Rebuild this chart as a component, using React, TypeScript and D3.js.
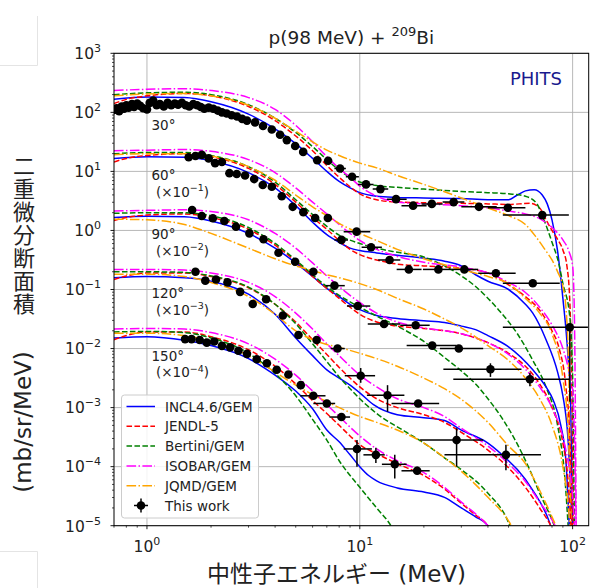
import React from "react";
import * as d3 from "d3";

type Pt = number[];

// ---------- axes ----------
const X_DOMAIN = [0.7, 119];
const Y_DOMAIN = [1e-5, 1e3];
const X_MAJOR = [1, 10, 100];
const X_MAJOR_EXP = ["0", "1", "2"];
const Y_MAJOR_EXP = [-5, -4, -3, -2, -1, 0, 1, 2, 3];

// ---------- labels ----------
const ANGLE_LABELS = ["30°", "60°", "90°", "120°", "150°"];
const SCALE_EXP = ["", "−1", "−2", "−3", "−4"];
const MODEL_NAMES = ["INCL4.6/GEM", "JENDL-5", "Bertini/GEM", "ISOBAR/GEM", "JQMD/GEM"];
const DATA_NAME = "This work";
const Y_LABEL_CJK = ["二", "重", "微", "分", "断", "面", "積"];

// ---------- model curves: [energy MeV, log10(d2σ/dEdΩ, scaled)] ----------
const INCL_30: Pt[] = [[0.7,2.22],[1,2.26],[1.5,2.25],[2,2.18],[3,1.97],[4,1.72],[5,1.47],[6,1.22],[7,1.0],[8,0.83],[9,0.72],[10,0.64],[12,0.58],[15,0.56],[20,0.55],[30,0.54],[40,0.52],[50,0.52],[55,0.6],[60,0.67],[66,0.69],[72,0.6],[76,0.45],[80,0.18],[85,-0.35],[90,-1.15],[95,-2.1],[98,-3.0],[100,-5.2]];
const JENDL_30: Pt[] = [[0.7,2.15],[0.8,2.22],[1,2.28],[1.5,2.32],[2,2.28],[3,2.1],[4,1.86],[5,1.6],[6,1.35],[7,1.1],[8,0.9],[9,0.74],[10,0.62],[12,0.52],[15,0.48],[20,0.47],[30,0.46],[40,0.45],[50,0.44],[63,0.46],[70,0.38],[75,0.18],[80,0.0],[85,-0.15],[90,-0.33],[94,-0.6],[97,-1.2],[99,-2.5],[101,-5.2]];
const BERTINI_30: Pt[] = [[0.7,2.3],[1,2.33],[1.5,2.34],[2,2.3],[3,2.13],[4,1.9],[5,1.66],[6,1.42],[7,1.2],[8,1.02],[9,0.9],[10,0.82],[12,0.76],[15,0.73],[20,0.7],[30,0.66],[40,0.64],[50,0.62],[60,0.58],[68,0.45],[72,0.25],[80,-0.2],[86,-0.55],[90,-0.9],[97,-1.46],[100,-2.5],[102,-5.2]];
const ISOBAR_30: Pt[] = [[0.7,2.37],[1,2.39],[1.5,2.4],[2,2.37],[3,2.25],[4,2.05],[5,1.78],[6,1.5],[7,1.25],[8,1.05],[9,0.9],[10,0.75],[12,0.58],[15,0.48],[20,0.45],[30,0.42],[40,0.38],[50,0.33],[60,0.28],[70,0.2],[80,0.05],[90,-0.16],[96,-0.35],[100,-0.6],[102,-1.5],[104,-5.2]];
const JQMD_30: Pt[] = [[0.7,2.28],[1,2.31],[1.5,2.32],[2,2.28],[3,2.12],[4,1.9],[5,1.68],[6,1.5],[7,1.36],[8,1.27],[10,1.14],[12,1.06],[15,0.93],[20,0.78],[30,0.55],[40,0.38],[50,0.25],[60,0.1],[67,-0.1],[75,-0.35],[80,-0.5],[85,-0.7],[90,-0.95],[93,-1.3],[96,-2.5],[98,-5.2]];

const INCL_60: Pt[] = [[0.7,1.22],[1,1.25],[1.5,1.24],[2,1.18],[3,0.98],[4,0.72],[5,0.42],[6,0.14],[7,-0.07],[8,-0.2],[9,-0.3],[10,-0.34],[12,-0.38],[15,-0.42],[20,-0.47],[25,-0.52],[30,-0.6],[35,-0.75],[40,-0.86],[50,-1.0],[60,-1.25],[65,-1.4],[75,-1.85],[85,-2.4],[90,-2.8],[95,-3.5],[100,-5.2]];
const JENDL_60: Pt[] = [[0.7,1.16],[0.8,1.22],[1,1.27],[1.5,1.3],[2,1.25],[3,1.05],[4,0.78],[5,0.48],[6,0.22],[7,0.02],[8,-0.17],[9,-0.32],[10,-0.41],[12,-0.5],[15,-0.57],[20,-0.6],[30,-0.64],[40,-0.72],[50,-0.92],[60,-1.12],[70,-1.35],[80,-1.7],[86,-1.97],[93,-2.65],[97,-3.5],[100,-5.2]];
const BERTINI_60: Pt[] = [[0.7,1.3],[1,1.32],[1.5,1.32],[2,1.27],[3,1.08],[4,0.82],[5,0.52],[6,0.27],[7,0.07],[8,-0.08],[10,-0.22],[12,-0.3],[15,-0.37],[20,-0.45],[26.5,-0.65],[35,-0.95],[45,-1.35],[55,-1.75],[65,-2.2],[75,-2.65],[85,-3.3],[92,-4.2],[96,-5.2]];
const ISOBAR_60: Pt[] = [[0.7,1.35],[1,1.36],[1.5,1.37],[2,1.34],[3,1.2],[4,0.98],[5,0.72],[6,0.48],[7,0.28],[8,0.1],[9,-0.05],[10,-0.17],[12,-0.32],[15,-0.44],[20,-0.54],[30,-0.62],[40,-0.72],[50,-0.88],[60,-1.05],[70,-1.3],[80,-1.6],[90,-2.0],[95,-2.3],[100,-2.7],[102,-3.5],[104,-5.2]];
const JQMD_60: Pt[] = [[0.7,1.28],[1,1.3],[1.5,1.3],[2,1.26],[3,1.08],[4,0.85],[5,0.6],[6,0.4],[7,0.25],[8,0.12],[10,-0.05],[12,-0.17],[15,-0.32],[20,-0.48],[30,-0.66],[40,-0.78],[50,-0.9],[60,-1.15],[70,-1.4],[80,-1.75],[90,-2.5],[95,-3.3],[99,-5.2]];

const INCL_90: Pt[] = [[0.7,0.22],[1,0.24],[1.5,0.23],[2,0.16],[3,-0.05],[4,-0.3],[5,-0.55],[6,-0.78],[7,-0.98],[8,-1.12],[9,-1.25],[10,-1.34],[12,-1.44],[15,-1.49],[20,-1.53],[25,-1.56],[30,-1.62],[35,-1.68],[40,-1.78],[50,-1.97],[65,-2.36],[75,-2.65],[81,-2.87],[88,-3.3],[93,-3.9],[97,-5.2]];
const JENDL_90: Pt[] = [[0.7,0.17],[0.8,0.22],[1,0.26],[1.5,0.28],[2,0.22],[3,0.02],[4,-0.25],[5,-0.52],[6,-0.78],[7,-0.98],[8,-1.15],[9,-1.3],[10,-1.42],[12,-1.55],[15,-1.62],[20,-1.66],[30,-1.75],[40,-1.9],[50,-2.08],[60,-2.3],[70,-2.6],[80,-3.0],[90,-3.6],[95,-4.2],[99,-5.2]];
const BERTINI_90: Pt[] = [[0.7,0.29],[1,0.3],[1.5,0.3],[2,0.25],[3,0.05],[4,-0.22],[5,-0.5],[6,-0.75],[7,-0.95],[8,-1.1],[10,-1.3],[12,-1.45],[15,-1.62],[20,-1.88],[25,-2.15],[30,-2.38],[35,-2.6],[40,-2.85],[47,-3.2],[55,-3.62],[63,-4.06],[70,-4.45],[80,-4.9],[86,-5.2]];
const ISOBAR_90: Pt[] = [[0.7,0.33],[1,0.34],[1.5,0.35],[2,0.32],[3,0.18],[4,-0.05],[5,-0.3],[6,-0.55],[7,-0.77],[8,-0.95],[9,-1.1],[10,-1.22],[12,-1.4],[15,-1.55],[20,-1.65],[30,-1.75],[40,-1.9],[50,-2.1],[60,-2.35],[70,-2.65],[80,-3.0],[90,-3.5],[95,-3.9],[100,-4.5],[103,-5.2]];
const JQMD_90: Pt[] = [[0.7,0.19],[1,0.18],[1.5,0.1],[2,-0.05],[3,-0.3],[4,-0.48],[5,-0.6],[6,-0.68],[7,-0.75],[8,-0.8],[10,-0.9],[12,-1.0],[15,-1.15],[20,-1.33],[25,-1.5],[30,-1.65],[40,-1.95],[50,-2.2],[60,-2.5],[70,-2.85],[80,-3.3],[90,-4.0],[95,-4.6],[98,-5.2]];

const INCL_120: Pt[] = [[0.7,-0.8],[1,-0.78],[1.5,-0.8],[2,-0.86],[3,-1.08],[4,-1.42],[5,-1.82],[6,-2.12],[7,-2.36],[8,-2.5],[9,-2.62],[10,-2.75],[11.6,-2.95],[15,-3.12],[20,-3.17],[25,-3.22],[30,-3.38],[40,-3.6],[50,-3.9],[55,-4.05],[65,-4.4],[78,-4.95],[82,-5.2]];
const JENDL_120: Pt[] = [[0.7,-0.83],[0.8,-0.77],[1,-0.72],[1.5,-0.72],[2,-0.78],[3,-0.97],[4,-1.25],[5,-1.55],[6,-1.85],[7,-2.1],[8,-2.32],[9,-2.5],[10,-2.65],[12,-2.85],[15,-3.0],[20,-3.12],[25,-3.25],[30,-3.42],[40,-3.72],[50,-4.02],[60,-4.35],[70,-4.7],[80,-5.05],[83,-5.2]];
const BERTINI_120: Pt[] = [[0.7,-0.7],[1,-0.7],[1.5,-0.71],[2,-0.77],[3,-0.96],[4,-1.25],[5,-1.58],[6,-1.92],[7,-2.22],[8,-2.48],[9,-2.68],[10,-2.85],[12,-3.1],[16.6,-3.42],[20,-3.6],[25,-3.85],[30,-4.05],[40,-4.45],[50,-4.95],[53,-5.2]];
const ISOBAR_120: Pt[] = [[0.7,-0.66],[1,-0.66],[1.5,-0.67],[2,-0.72],[3,-0.88],[4,-1.12],[5,-1.4],[6,-1.67],[7,-1.92],[8,-2.12],[9,-2.3],[10,-2.45],[12,-2.65],[15,-2.85],[20,-3.0],[25,-3.15],[30,-3.35],[40,-3.65],[50,-3.95],[60,-4.25],[70,-4.6],[80,-4.9],[88,-5.2]];
const JQMD_120: Pt[] = [[0.7,-0.74],[1,-0.74],[1.5,-0.78],[2,-0.88],[3,-1.12],[4,-1.42],[5,-1.7],[6,-1.85],[7,-1.93],[8,-1.98],[10,-2.08],[12,-2.17],[15,-2.3],[20,-2.5],[25,-2.68],[30,-2.86],[40,-3.25],[50,-3.65],[60,-3.95],[70,-4.4],[80,-4.85],[88,-5.2]];

const INCL_150: Pt[] = [[0.7,-1.82],[1,-1.8],[1.5,-1.86],[2,-1.95],[3,-2.17],[4,-2.45],[5,-2.72],[6,-3.02],[7,-3.38],[8,-3.58],[9,-3.8],[10,-4.0],[11,-4.15],[12,-4.24],[15,-4.36],[20,-4.43],[25,-4.52],[30,-4.7],[35,-4.85],[40,-5.0],[43,-5.2]];
const JENDL_150: Pt[] = [[0.7,-1.85],[0.8,-1.78],[1,-1.72],[1.5,-1.72],[2,-1.8],[3,-2.02],[4,-2.3],[5,-2.6],[6,-2.88],[7,-3.1],[8,-3.3],[9,-3.48],[10,-3.63],[12,-3.78],[15,-3.95],[20,-4.15],[25,-4.38],[30,-4.62],[35,-4.82],[40,-5.0],[43,-5.2]];
const BERTINI_150: Pt[] = [[0.7,-1.72],[1,-1.71],[1.5,-1.73],[2,-1.82],[3,-2.08],[4,-2.42],[5,-2.8],[6,-3.2],[7,-3.55],[8,-3.9],[10,-4.35],[12,-4.7],[14,-5.0],[15,-5.2]];
const ISOBAR_150: Pt[] = [[0.7,-1.67],[1,-1.66],[1.5,-1.67],[2,-1.73],[3,-1.92],[4,-2.18],[5,-2.45],[6,-2.72],[7,-2.95],[8,-3.15],[9,-3.33],[10,-3.48],[12,-3.7],[15,-3.9],[20,-4.1],[25,-4.35],[30,-4.6],[35,-4.8],[40,-5.0],[44,-5.2]];
const JQMD_150: Pt[] = [[0.7,-1.74],[1,-1.74],[1.5,-1.78],[2,-1.87],[3,-2.12],[4,-2.4],[5,-2.62],[6,-2.78],[7,-2.9],[8,-3.0],[10,-3.15],[12,-3.25],[15,-3.38],[20,-3.6],[25,-3.85],[30,-4.08],[40,-4.52],[50,-4.92],[55,-5.2]];

// ---------- measured data: [E, log10 value, Elow?, Ehigh?, log10 low?, log10 high?] ----------
const DATA_30: Pt[] = [[0.70,2.04],[0.72,2.07],[0.74,2.02],[0.76,2.10],[0.78,2.06],[0.80,2.12],[0.82,2.08],[0.85,2.14],[0.87,2.09],[0.90,2.15],[0.93,2.11],[0.96,2.07],[1.00,2.05],[1.03,2.16],[1.07,2.20],[1.11,2.12],[1.15,2.14],[1.20,2.10],[1.25,2.16],[1.30,2.12],[1.35,2.15],[1.40,2.13],[1.46,2.16],[1.52,2.12],[1.58,2.10],[1.65,2.14],[1.72,2.12],[1.79,2.09],[1.86,2.06],[1.95,2.08],[2.05,2.06],[2.15,2.03],[2.25,2.00],[2.37,1.98],[2.50,1.95],[2.65,1.93],[2.80,1.89],[2.95,1.86],[3.22,1.83],[3.51,1.77],[3.86,1.71],[4.22,1.62],[4.54,1.53],[4.97,1.43],[5.42,1.33],[6.31,1.19],[7.10,1.18],[8.08,1.05,7.6,8.6],[9.2,0.91,8.6,9.9],[10.7,0.78,9.8,11.6],[12.5,0.70,11.5,13.6],[14.8,0.53,13.4,16.6],[17.8,0.42,15.7,20.6],[21.8,0.45,19.5,24.5],[27.6,0.48,24.5,31],[36.3,0.40,30,44],[49.6,0.385,40,60],[72,0.26,47,96]];
const DATA_60: Pt[] = [[1.57,1.24],[1.69,1.26],[1.81,1.28],[1.95,1.22],[2.09,1.14],[2.25,1.16],[2.44,0.97],[2.64,0.956],[2.89,0.93],[3.19,0.87],[3.5,0.77],[3.86,0.74],[4.3,0.58],[4.84,0.40],[5.43,0.31],[6.17,0.21],[7.08,0.21],[8.2,-0.16,7.6,8.8],[9.66,-0.02,8.4,11.2],[11.3,-0.285,10.2,12.7],[13.8,-0.5,12.2,15.5],[17.0,-0.66,14.9,19.5],[23.4,-0.66,19.8,27],[31,-0.66,27,36],[43.6,-0.725,36,54],[65,-0.895,47,87],[97,-1.64,47,118,-2.9,-1.58]];
const DATA_90: Pt[] = [[1.63,0.346],[1.81,0.245],[2.04,0.206],[2.31,0.16],[2.62,0.064],[3.03,-0.05],[3.53,-0.15],[4.15,-0.377],[4.97,-0.53],[6.05,-0.70],[7.6,-0.935,6.9,8.5],[9.78,-1.28,8.7,11.2],[13.0,-1.585,10.9,15.5],[18.3,-1.606,15.5,21.3],[21.9,-1.95,16.6,28.5],[29.2,-2.0,23.8,38],[41.1,-2.35,24.7,57.5,-2.48,-2.25],[63,-2.52,27.5,97,-2.64,-2.41]];
const DATA_120: Pt[] = [[1.69,-0.70],[1.88,-0.85],[2.11,-0.83],[2.39,-0.88],[2.74,-1.04],[3.14,-1.245],[3.63,-1.166],[4.35,-1.44],[5.15,-1.77],[6.27,-1.855],[7.86,-2.0,7.3,8.5],[10.1,-2.46,8.5,11.8,-2.58,-2.33],[13.5,-2.79,10.8,16.2,-3.07,-2.62],[18.8,-2.93,14.1,23.6],[28.5,-3.55,19.2,38,-4.0,-3.35],[48.6,-3.80,25,71,-4.06,-3.63]];
const DATA_150: Pt[] = [[1.51,-1.84],[1.62,-1.84],[1.77,-1.855],[1.91,-1.90],[2.07,-1.88],[2.25,-1.955],[2.46,-1.98],[2.69,-2.036],[2.95,-2.09],[3.28,-2.18],[3.66,-2.25],[4.07,-2.36],[4.62,-2.44],[5.28,-2.62],[6.05,-2.80,5.25,6.9],[7.0,-2.93,6.05,7.66],[8.2,-3.16,7.2,9.0],[9.7,-3.70,8.4,11.4,-4.0,-3.55],[11.9,-3.80,10.4,13.1,-3.94,-3.68],[14.6,-3.96,12.7,16.6,-4.2,-3.8],[18.6,-4.07,15.7,21.3,-4.13,-4.0]];
const DATA_DEFAULT_LOG_ERR = [0.06, 0.04, 0.04, 0.04, 0.04];

const MODEL_CURVES: Pt[][][] = [
  [INCL_30, JENDL_30, BERTINI_30, ISOBAR_30, JQMD_30],
  [INCL_60, JENDL_60, BERTINI_60, ISOBAR_60, JQMD_60],
  [INCL_90, JENDL_90, BERTINI_90, ISOBAR_90, JQMD_90],
  [INCL_120, JENDL_120, BERTINI_120, ISOBAR_120, JQMD_120],
  [INCL_150, JENDL_150, BERTINI_150, ISOBAR_150, JQMD_150],
];
const DATA_SETS: Pt[][] = [DATA_30, DATA_60, DATA_90, DATA_120, DATA_150];

// ---------- styles ----------
const MODEL_COLORS = ["#0000ff", "#ff0000", "#008000", "#ff00ff", "#ffa500"];
const MODEL_DASHES = ["", "5.55,2.4", "5.55,2.4", "9.6,2.4,1.5,2.4", "9.6,2.4,1.5,2.4"];
const FONT = "'DejaVu Sans', 'Noto Sans CJK JP', sans-serif";

export default function App() {
  const W = 596, H = 588;
  const L = 114, R = 588.7, T = 53.3, B = 525.7;
  const x = d3.scaleLog().domain(X_DOMAIN).range([L, R]);
  const y = d3.scaleLog().domain(Y_DOMAIN).range([B, T]);
  const yl = (v: number) => y(Math.pow(10, v));
  const line = d3
    .line<Pt>()
    .x((d) => x(d[0]))
    .y((d) => yl(d[1]))
    .curve(d3.curveMonotoneX);

  const xMinor: number[] = [];
  [0.1, 1, 10, 100].forEach((dec) => {
    for (let m = 2; m <= 9; m++) {
      const v = m * dec;
      if (v >= X_DOMAIN[0] && v <= X_DOMAIN[1]) xMinor.push(v);
    }
  });
  const yMinor: number[] = [];
  for (let e = -5; e < 3; e++) for (let m = 2; m <= 9; m++) yMinor.push(m * Math.pow(10, e));

  const angleLabelY = [130, 180, 238.5, 298, 361];
  const scaleLabelY = [0, 196.5, 255.5, 314.5, 377];

  const legendX = 121.5, legendY = 395, legendW = 137, legendH = 123;
  const rowY = (i: number) => 406.5 + i * 19.8;

  return (
    <svg
      width={W}
      height={H}
      style={{ position: "absolute", left: 0, top: 0, background: "#fff" }}
      fontFamily={FONT}
    >
      <rect x={0} y={0} width={W} height={H} fill="#fff" />
      {/* screenshot frame artifacts */}
      <g stroke="#e4e4e4" strokeWidth={1} fill="none">
        <path d="M37.5,16 V65.5 H0" />
        <path d="M0,551.5 H37.5 V588" />
      </g>
      <defs>
        <clipPath id="plotClip">
          <rect x={L} y={T} width={R - L} height={B - T} />
        </clipPath>
      </defs>

      {/* grid */}
      <g stroke="#b0b0b0" strokeWidth={0.9}>
        {X_MAJOR.map((v) => (
          <line key={"gx" + v} x1={x(v)} x2={x(v)} y1={T} y2={B} />
        ))}
        {Y_MAJOR_EXP.map((e) => (
          <line key={"gy" + e} x1={L} x2={R} y1={yl(e)} y2={yl(e)} />
        ))}
      </g>

      {/* angle labels */}
      <g fontSize={13.5} fill="#222">
        {ANGLE_LABELS.map((a, i) => (
          <text key={a} x={151.5} y={angleLabelY[i]}>
            {a}
          </text>
        ))}
        {SCALE_EXP.map((s, i) =>
          i === 0 ? null : (
            <text key={"s" + i} x={156} y={scaleLabelY[i]}>
              (×10<tspan dy={-5.5} fontSize={9.5}>{s}</tspan>
              <tspan dy={5.5}>)</tspan>
            </text>
          )
        )}
      </g>

      {/* model curves */}
      <g clipPath="url(#plotClip)" fill="none" strokeWidth={1.5}>
        {MODEL_CURVES.map((set, ai) =>
          set.map((pts, mi) => (
            <path
              key={ai + "-" + mi}
              d={line(pts) || ""}
              stroke={MODEL_COLORS[mi]}
              strokeDasharray={MODEL_DASHES[mi] || undefined}
            />
          ))
        )}
      </g>

      {/* measured data */}
      <g clipPath="url(#plotClip)">
        {DATA_SETS.map((set, ai) =>
          set.map((d, k) => {
            const cx = x(d[0]);
            const cy = yl(d[1]);
            const err = DATA_DEFAULT_LOG_ERR[ai];
            const lo = d.length > 4 ? d[4] : d[1] - err;
            const hi = d.length > 5 ? d[5] : d[1] + err;
            return (
              <g key={ai + "d" + k}>
                {d.length > 2 && (
                  <line x1={x(d[2])} x2={x(d[3])} y1={cy} y2={cy} stroke="#000" strokeWidth={1.5} />
                )}
                <line x1={cx} x2={cx} y1={yl(lo)} y2={yl(hi)} stroke="#000" strokeWidth={1.5} />
                <circle cx={cx} cy={cy} r={4.3} fill="#000" />
              </g>
            );
          })
        )}
      </g>

      {/* frame */}
      <rect x={L} y={T} width={R - L} height={B - T} fill="none" stroke="#000" strokeWidth={1} />

      {/* ticks */}
      <g stroke="#000">
        {X_MAJOR.map((v) => (
          <line key={"tx" + v} x1={x(v)} x2={x(v)} y1={B} y2={B + 3.5} strokeWidth={0.9} />
        ))}
        {xMinor.map((v) => (
          <line key={"mx" + v} x1={x(v)} x2={x(v)} y1={B} y2={B + 2} strokeWidth={0.7} />
        ))}
        {Y_MAJOR_EXP.map((e) => (
          <line key={"ty" + e} x1={L - 3.5} x2={L} y1={yl(e)} y2={yl(e)} strokeWidth={0.9} />
        ))}
        {yMinor.map((v, i) => (
          <line key={"my" + i} x1={L - 2} x2={L} y1={y(v)} y2={y(v)} strokeWidth={0.7} />
        ))}
      </g>

      {/* tick labels */}
      <g fontSize={15.5} fill="#222">
        {X_MAJOR.map((v, i) => (
          <text key={"lx" + v} x={x(v)} y={551.5} textAnchor="middle">
            10<tspan dy={-7} fontSize={11}>{X_MAJOR_EXP[i]}</tspan>
          </text>
        ))}
        {Y_MAJOR_EXP.map((e) => (
          <text key={"ly" + e} x={L - 13} y={yl(e) + 5.8} textAnchor="end">
            10<tspan dy={-7} fontSize={11}>{e < 0 ? "−" + Math.abs(e) : String(e)}</tspan>
          </text>
        ))}
      </g>

      {/* title */}
      <text x={(L + R) / 2} y={43.5} textAnchor="middle" fontSize={18.5} fill="#222">
        p(98 MeV) + <tspan dy={-7.5} fontSize={13}>209</tspan>
        <tspan dy={7.5}>Bi</tspan>
      </text>
      <text x={562} y={85} textAnchor="end" fontSize={18} fill="#1a1a8e">
        PHITS
      </text>

      {/* axis labels */}
      <text x={336.5} y={582} textAnchor="middle" fontSize={23} fill="#222">
        中性子エネルギー (MeV)
      </text>
      <g fontSize={22} fill="#222" textAnchor="middle">
        {Y_LABEL_CJK.map((c, i) => (
          <text key={c} x={24} y={166.5 + i * 23} dominantBaseline="central">
            {c}
          </text>
        ))}
      </g>
      <text
        transform={`translate(31,422) rotate(-90)`}
        textAnchor="middle"
        fontSize={23}
        fill="#222"
      >
        (mb/sr/MeV)
      </text>

      {/* legend */}
      <g>
        <rect
          x={legendX}
          y={legendY}
          width={legendW}
          height={legendH}
          rx={3}
          fill="#fff"
          fillOpacity={0.85}
          stroke="#cccccc"
          strokeWidth={1}
        />
        {MODEL_NAMES.map((n, i) => (
          <g key={n}>
            <line
              x1={126.5}
              x2={155}
              y1={rowY(i)}
              y2={rowY(i)}
              stroke={MODEL_COLORS[i]}
              strokeWidth={1.5}
              strokeDasharray={MODEL_DASHES[i] || undefined}
            />
            <text x={165} y={rowY(i) + 5} fontSize={13.5} fill="#222">
              {n}
            </text>
          </g>
        ))}
        <g>
          <line x1={134} x2={148} y1={rowY(5)} y2={rowY(5)} stroke="#000" strokeWidth={1.5} />
          <line x1={141} x2={141} y1={rowY(5) - 7} y2={rowY(5) + 7} stroke="#000" strokeWidth={1.5} />
          <circle cx={141} cy={rowY(5)} r={4.3} fill="#000" />
          <text x={165} y={rowY(5) + 5} fontSize={13.5} fill="#222">
            {DATA_NAME}
          </text>
        </g>
      </g>
    </svg>
  );
}
